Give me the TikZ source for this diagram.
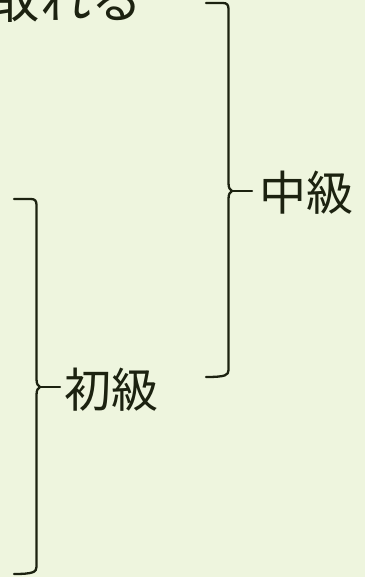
\documentclass[tikz,border=0pt]{standalone}
\usepackage{fontspec}
\newfontfamily\jp{Noto Sans CJK JP}
\definecolor{bg}{RGB}{238,245,222}
\definecolor{ink}{RGB}{28,34,16}
\tikzset{
  lbl/.style={inner sep=0pt, outer sep=0pt, text=ink, font=\jp\fontsize{47}{47}\selectfont},
  bracepath/.style={draw=ink, line width=2.3pt, line cap=round, line join=round}
}
\begin{document}
\begin{tikzpicture}[x=1pt,y=-1pt]
\fill[bg] (0,0) rectangle (365,577);
\useasboundingbox (0,0) rectangle (365,577);
\begin{scope}
\clip (0,0) rectangle (365,577);
\node[lbl, font=\jp\fontsize{51}{51}\selectfont, anchor=base east] (top) at (142,19) {取れる};
\end{scope}
\node[lbl, anchor=base west] (mid) at (259,211) {中級};
\node[lbl, anchor=base west] (low) at (64,407) {初級};
% brace for 中級
\coordinate (b1t) at (206,3);
\coordinate (b1b) at (206,377);
\coordinate (b1tip) at (232,191);
\coordinate (b1end) at (252,191);
\draw[bracepath] (b1t) -- (223,3) .. controls (227,3) and (228.5,5) .. (228.5,9)
  -- (228.5,183) .. controls (228.5,188) and (230,190) .. (b1tip)
  .. controls (230,192) and (228.5,194) .. (228.5,199)
  -- (228.5,370) .. controls (228.5,375) and (226,377) .. (b1b);
\draw[bracepath] (b1tip) -- (b1end);
% brace for 初級
\coordinate (b2t) at (14,199);
\coordinate (b2b) at (14,574);
\coordinate (b2tip) at (40,387);
\coordinate (b2end) at (60,387);
\draw[bracepath] (b2t) -- (31,199) .. controls (35,199) and (36.5,201) .. (36.5,205)
  -- (36.5,379) .. controls (36.5,384) and (38,386) .. (b2tip)
  .. controls (38,388) and (36.5,390) .. (36.5,395)
  -- (36.5,567) .. controls (36.5,572) and (33,574) .. (b2b);
\draw[bracepath] (b2tip) -- (b2end);
\end{tikzpicture}
\end{document}
